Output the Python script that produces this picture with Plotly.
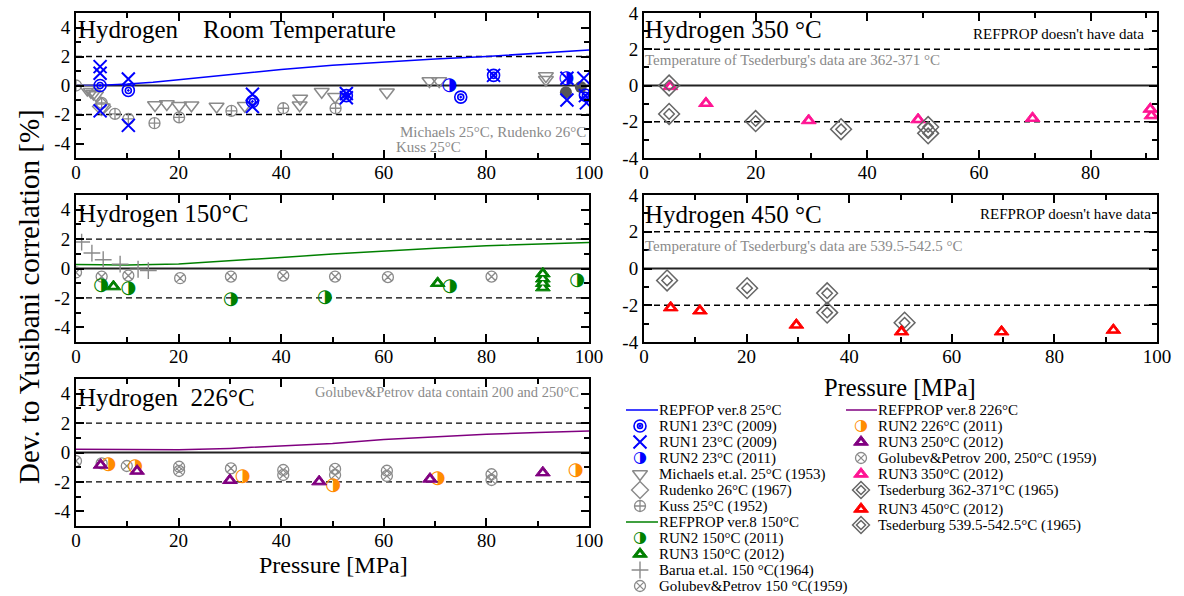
import plotly.graph_objects as go

W, H = 1184, 596
FONT = "Liberation Serif"
GLYPH_FONT = "DejaVu Sans"

# ---------------- data ----------------
# Room temperature panel
refprop25_p = [0, 5, 10, 15, 20, 30, 40, 50, 60, 70, 80, 90, 100]
refprop25_d = [0.0, 0.02, 0.1, 0.22, 0.4, 0.77, 1.1, 1.4, 1.62, 1.82, 2.0, 2.22, 2.45]
run1_target_p = [4.7, 10.2, 34.4, 52.7, 75.0, 81.4, 99.3]
run1_target_d = [0.0, -0.34, -1.1, -0.7, -0.8, 0.7, -0.67]
run1_x_p = [4.7, 4.7, 4.7, 10.2, 10.2, 34.4, 34.4, 52.7, 52.7, 81.4, 95.7, 95.7, 99.0, 99.3, 99.5]
run1_x_d = [1.3, 0.85, -1.75, 0.45, -2.75, -0.6, -1.45, -0.55, -0.85, 0.7, 0.5, -1.0, 0.5, -0.7, -1.2]
run2_23_p = [72.8, 95.6]
run2_23_d = [0.0, 0.47]
dark_p = [95.5, 98.4]
dark_d = [-0.47, -0.1]
michaels_p = [2.2, 2.9, 3.4, 3.9, 5.2, 15.4, 17.7, 20.1, 22.5, 27.4, 32.9, 43.6, 43.7, 47.9,
              50.5, 60.6, 68.9, 70.8, 91.6, 91.6]
michaels_d = [-0.27, -0.43, -0.55, -0.66, -1.5, -1.34, -1.27, -1.4, -1.36, -1.45, -1.4, -1.36,
              -0.9, -0.43, -0.77, -0.47, 0.31, 0.31, 0.65, 0.4]
rudenko_p = [5.0]
rudenko_d = [-1.45]
kuss_p = [0.0, 5.0, 7.6, 10.2, 15.3, 20.1, 30.3, 40.4, 50.6]
kuss_d = [0.0, -1.2, -1.95, -2.3, -2.6, -2.2, -1.75, -1.57, -1.57]

# 150 C panel
refprop150_p = [0, 10, 20, 30, 40, 50, 60, 70, 80, 90, 100]
refprop150_d = [0.28, 0.24, 0.3, 0.5, 0.75, 0.98, 1.2, 1.38, 1.55, 1.67, 1.77]
barua_p = [1.1, 3.1, 5.3, 8.6, 12.1, 14.1]
barua_d = [1.8, 1.05, 0.6, 0.3, -0.05, -0.14]
golubev150_p = [0, 5, 10.2, 20.3, 30.2, 40.4, 50.5, 60.8, 81.0]
golubev150_d = [-0.27, -0.55, -0.48, -0.66, -0.55, -0.48, -0.55, -0.59, -0.55]
run2_150_p = [4.9, 10.2, 30.2, 48.5, 72.9, 97.7]
run2_150_d = [-1.14, -1.39, -2.09, -1.95, -1.23, -0.84]
run3_150_p = [7.3, 70.5, 91.0, 91.0, 91.0, 91.0]
run3_150_d = [-1.23, -1.0, -0.35, -0.7, -1.0, -1.3]

# 226 C panel
refprop226_p = [0, 10, 20, 30, 40, 50, 60, 70, 80, 90, 100]
refprop226_d = [0.22, 0.18, 0.18, 0.28, 0.45, 0.62, 0.88, 1.08, 1.24, 1.36, 1.46]
golubev226_p = [0, 5, 9.9, 20.1, 20.1, 30.2, 40.4, 40.4, 50.5, 50.5, 60.6, 60.6, 81.0, 81.0]
golubev226_d = [-0.58, -0.74, -0.92, -0.97, -1.26, -1.08, -1.19, -1.53, -1.12, -1.53, -1.24, -1.6,
                -1.48, -1.87]
run2_226_p = [6.3, 11.5, 32.5, 50.1, 70.5, 97.4]
run2_226_d = [-0.81, -0.97, -1.66, -2.25, -1.75, -1.24]
run3_250_p = [4.8, 11.9, 30.0, 47.4, 69.0, 91.0]
run3_250_d = [-0.85, -1.26, -1.89, -1.98, -1.8, -1.37]

# 350 C panel
tsed362_p = [4.5, 4.5, 20.0, 35.3, 50.9, 50.9]
tsed362_d = [0.0, -1.57, -1.96, -2.41, -2.29, -2.64]
run3_350_p = [4.7, 11.1, 29.5, 49.1, 69.6, 90.7, 90.9]
run3_350_d = [-0.05, -0.98, -1.93, -1.88, -1.8, -1.3, -1.66]

# 450 C panel
tsed539_p = [4.5, 20.1, 35.7, 35.7, 50.8]
tsed539_d = [-0.65, -1.07, -1.35, -2.4, -2.95]
run3_450_p = [5.2, 10.9, 29.7, 50.2, 69.7, 91.5]
run3_450_d = [-2.13, -2.3, -3.07, -3.44, -3.44, -3.35]

x_ticks = [0, 20, 40, 60, 80, 100]
y_ticks = [-4, -2, 0, 2, 4]
y_ticktext = ["-4", "-2", "0", "2", "4"]

# ---------------- styles ----------------
BLUE, GREEN, PURPLE, ORANGE, PINK, RED = "#0000ff", "#008000", "#800080", "#ff8c00", "#ff1493", "#ff0000"
GRAY, DGRAY = "#8a8a8a", "#666666"

HALF_CIRCLE = "\u25d1"   # circle, right half black


def glyph(ch, color, size):
    return dict(kind="text", ch=ch, color=color, size=size)


def openm(symbol, color, size, lw=1.4):
    return dict(symbol=symbol, size=size, color=color, line=dict(color=color, width=lw))


def tri_outer(color):
    return dict(symbol="triangle-up", size=13, color=color, line=dict(color=color, width=1))


TRI_INNER = dict(symbol="triangle-up", size=5, color="white", line=dict(width=0))

S = {
    "target_o": openm("circle-open", BLUE, 12, 1.6),
    "target_i": openm("circle-open-dot", BLUE, 6, 1.6),
    "x": openm("x-thin-open", BLUE, 13, 2),
    "run2_23": glyph(HALF_CIRCLE, BLUE, 18),
    "dark": dict(symbol="circle", size=12, color="#555555"),
    "michaels": openm("triangle-down-open", GRAY, 13, 1.5),
    "rudenko": openm("diamond-open", GRAY, 14, 1.4),
    "kuss": openm("circle-cross-open", GRAY, 11, 1.3),
    "run2_150": glyph(HALF_CIRCLE, GREEN, 18),
    "run3_150": tri_outer(GREEN),
    "barua": openm("cross-thin-open", GRAY, 12, 1.4),
    "golubev": openm("circle-x-open", GRAY, 11, 1.3),
    "run2_226": glyph(HALF_CIRCLE, ORANGE, 18),
    "run3_250": tri_outer(PURPLE),
    "run3_350": tri_outer(PINK),
    "tsed_o": openm("diamond-open", DGRAY, 16, 1.5),
    "tsed_i": openm("diamond-open", DGRAY, 8, 1.5),
    "run3_450": tri_outer(RED),
    "tri_in": TRI_INNER,
}

fig = go.Figure()


def px2x(p):
    return p / W


def px2y(p):
    return 1 - p / H


# panel layout (pixel boxes)
panels = [
    ("x", "y", (76, 589), (13, 158), [0, 100], [-5, 5]),
    ("x2", "y2", (76, 589), (195, 342), [0, 100], [-5, 5]),
    ("x3", "y3", (76, 589), (379, 526), [0, 100], [-5, 5]),
    ("x4", "y4", (644, 1157), (13, 158), [0, 91.9], [-4, 4]),
    ("x5", "y5", (644, 1157), (195, 342), [0, 100], [-4, 4]),
]

shapes = []
for xa, ya, (xl, xr), (yt, yb), xrng, yrng in panels:
    xk = "xaxis" + xa[1:]
    yk = "yaxis" + ya[1:]
    common = dict(showgrid=False, zeroline=False, showline=True, linecolor="black", linewidth=2,
                  mirror="ticks", ticks="inside", ticklen=8, tickwidth=1.5, tickcolor="black",
                  automargin=False,
                  tickfont=dict(family=FONT, size=19, color="black"))
    fig.layout[xk] = dict(common, domain=[px2x(xl), px2x(xr)], range=xrng, anchor=ya,
                          tickvals=x_ticks, ticklabelstandoff=-4,
                          minor=dict(ticks="inside", ticklen=5, dtick=10, tick0=0, tickcolor="black", tickwidth=1.5))
    fig.layout[yk] = dict(common, domain=[px2y(yb), px2y(yt)], range=yrng, anchor=xa,
                          tickvals=y_ticks, ticktext=y_ticktext,
                          minor=dict(ticks="inside", ticklen=5, dtick=1, tick0=0, tickcolor="black", tickwidth=1.5))
    dref = xa + " domain"
    for lvl, dash, col, w in [(0, "solid", "#222222", 2), (2, "6px,4px", "black", 1.4), (-2, "6px,4px", "black", 1.4)]:
        shapes.append(dict(type="line", xref=dref, yref=ya, x0=0, x1=1, y0=lvl, y1=lvl,
                           line=dict(color=col, width=w, dash=dash), layer="below"))


def add(xs, ys, style, xa, ya, mode="markers"):
    if mode == "lines":
        fig.add_trace(go.Scatter(x=xs, y=ys, mode="lines", line=style, xaxis=xa, yaxis=ya,
                                 showlegend=False, hoverinfo="skip"))
    elif style.get("kind") == "text":
        fig.add_trace(go.Scatter(x=xs, y=ys, mode="text", text=[style["ch"]] * len(xs),
                                 textposition="middle center",
                                 textfont=dict(family=GLYPH_FONT, size=style["size"], color=style["color"]),
                                 xaxis=xa, yaxis=ya, showlegend=False, hoverinfo="skip", cliponaxis=True))
    else:
        fig.add_trace(go.Scatter(x=xs, y=ys, mode="markers", marker=style, xaxis=xa, yaxis=ya,
                                 showlegend=False, hoverinfo="skip", cliponaxis=True))


def add_tri(xs, ys, style, xa, ya):
    add(xs, ys, style, xa, ya)
    add(xs, ys, S["tri_in"], xa, ya)


L25 = dict(color=BLUE, width=1.5)
L150 = dict(color=GREEN, width=1.5)
L226 = dict(color=PURPLE, width=1.5)

# room temperature
add(refprop25_p, refprop25_d, L25, "x", "y", "lines")
add(kuss_p, kuss_d, S["kuss"], "x", "y")
add(rudenko_p, rudenko_d, S["rudenko"], "x", "y")
add(michaels_p, michaels_d, S["michaels"], "x", "y")
add(dark_p, dark_d, S["dark"], "x", "y")
add(run2_23_p, run2_23_d, S["run2_23"], "x", "y")
add(run1_x_p, run1_x_d, S["x"], "x", "y")
add(run1_target_p, run1_target_d, S["target_o"], "x", "y")
add(run1_target_p, run1_target_d, S["target_i"], "x", "y")
# 150 C
add(refprop150_p, refprop150_d, L150, "x2", "y2", "lines")
add(barua_p, barua_d, S["barua"], "x2", "y2")
add(golubev150_p, golubev150_d, S["golubev"], "x2", "y2")
add(run2_150_p, run2_150_d, S["run2_150"], "x2", "y2")
add_tri(run3_150_p, run3_150_d, S["run3_150"], "x2", "y2")
# 226 C
add(refprop226_p, refprop226_d, L226, "x3", "y3", "lines")
add(golubev226_p, golubev226_d, S["golubev"], "x3", "y3")
add(run2_226_p, run2_226_d, S["run2_226"], "x3", "y3")
add_tri(run3_250_p, run3_250_d, S["run3_250"], "x3", "y3")
# 350 C
add_tri(run3_350_p, run3_350_d, S["run3_350"], "x4", "y4")
add(tsed362_p, tsed362_d, S["tsed_o"], "x4", "y4")
add(tsed362_p, tsed362_d, S["tsed_i"], "x4", "y4")
# 450 C
add(tsed539_p, tsed539_d, S["tsed_o"], "x5", "y5")
add(tsed539_p, tsed539_d, S["tsed_i"], "x5", "y5")
add_tri(run3_450_p, run3_450_d, S["run3_450"], "x5", "y5")

# ---------------- manual legend (pixel-unit hidden axis) ----------------
fig.layout["xaxis6"] = dict(domain=[px2x(592), 1], range=[592, 1184], visible=False,
                            fixedrange=True, anchor="y6", automargin=False)
fig.layout["yaxis6"] = dict(domain=[0, px2y(387)], range=[596, 387], visible=False,
                            fixedrange=True, anchor="x6", automargin=False)

legend_left = [
    ("REPFOP ver.8 25°C", "line", L25),
    ("RUN1 23°C (2009)", "mk", [S["target_o"], S["target_i"]]),
    ("RUN1 23°C (2009)", "mk", [S["x"]]),
    ("RUN2 23°C (2011)", "mk", [S["run2_23"]]),
    ("Michaels et.al. 25°C (1953)", "mk", [S["michaels"]]),
    ("Rudenko 26°C (1967)", "mk", [S["rudenko"]]),
    ("Kuss 25°C (1952)", "mk", [S["kuss"]]),
    ("REFPROP ver.8 150°C", "line", L150),
    ("RUN2 150°C (2011)", "mk", [S["run2_150"]]),
    ("RUN3 150°C (2012)", "mk", [S["run3_150"], S["tri_in"]]),
    ("Barua et.al. 150 °C(1964)", "mk", [S["barua"]]),
    ("Golubev&Petrov 150 °C(1959)", "mk", [S["golubev"]]),
]
legend_right = [
    ("REFPROP ver.8 226°C", "line", L226),
    ("RUN2 226°C (2011)", "mk", [S["run2_226"]]),
    ("RUN3 250°C (2012)", "mk", [S["run3_250"], S["tri_in"]]),
    ("Golubev&Petrov 200, 250°C (1959)", "mk", [S["golubev"]]),
    ("RUN3 350°C (2012)", "mk", [S["run3_350"], S["tri_in"]]),
    ("Tsederburg 362-371°C (1965)", "mk", [S["tsed_o"], S["tsed_i"]]),
    ("RUN3 450°C (2012)", "mk", [S["run3_450"], S["tri_in"]]),
    ("Tsederburg 539.5-542.5°C (1965)", "mk", [S["tsed_o"], S["tsed_i"]]),
]

annotations = []


def draw_legend(entries, line_x0, line_x1, mk_x, text_x, y0, step, gap_after=None, gap=0):
    for i, (label, kind, style) in enumerate(entries):
        yy = y0 + i * step + (gap if gap_after is not None and i > gap_after else 0)
        if kind == "line":
            fig.add_trace(go.Scatter(x=[line_x0, line_x1], y=[yy, yy], mode="lines", line=style,
                                     xaxis="x6", yaxis="y6", showlegend=False, hoverinfo="skip"))
        else:
            for st in style:
                if st.get("kind") == "text":
                    fig.add_trace(go.Scatter(x=[mk_x], y=[yy], mode="text", text=[st["ch"]],
                                             textposition="middle center",
                                             textfont=dict(family=GLYPH_FONT, size=st["size"] - 2, color=st["color"]),
                                             xaxis="x6", yaxis="y6", showlegend=False, hoverinfo="skip",
                                             cliponaxis=False))
                else:
                    sz = min(st["size"], 13) if st["size"] > 8 else st["size"] - 1
                    fig.add_trace(go.Scatter(x=[mk_x], y=[yy], mode="markers", marker=dict(st, size=sz),
                                             xaxis="x6", yaxis="y6", showlegend=False, hoverinfo="skip",
                                             cliponaxis=False))
        annotations.append(dict(x=text_x, y=yy, xref="x6", yref="y6", text=label, showarrow=False,
                                xanchor="left", yanchor="middle",
                                font=dict(family=FONT, size=15, color="black")))


draw_legend(legend_left, 626, 658, 640, 657, 410, 16)
draw_legend(legend_right, 846, 877, 861, 876, 410, 16, gap_after=5, gap=3)


def note(text, x, y, size, color="black", xanchor="left"):
    annotations.append(dict(x=px2x(x), y=px2y(y), xref="paper", yref="paper", text=text,
                            showarrow=False, xanchor=xanchor, yanchor="middle",
                            font=dict(family=FONT, size=size, color=color)))


NB = "\u00a0"
note("Hydrogen" + NB * 3 + " Room Temperature", 76, 30, 25)
note("Hydrogen 150°C", 76, 213, 25)
note("Hydrogen" + NB + " 226°C", 76, 397, 25)
note("Hydrogen 350 °C", 643, 30, 25)
note("Hydrogen 450 °C", 643, 214, 25)
note("Michaels 25°C, Rudenko 26°C", 588, 132, 15, GRAY, "right")
note("Kuss 25°C", 394, 147, 15, GRAY)
note("Golubev&Petrov data contain 200 and 250°C", 581, 392, 14.5, GRAY, "right")
note("REFPROP doesn't have data", 1146, 34, 15, "black", "right")
note("REFPROP doesn't have data", 1153, 214, 15, "black", "right")
note("Temperature of Tsederburg's data are 362-371 °C", 643, 60, 15, GRAY)
note("Temperature of Tsederburg's data are 539.5-542.5 °C", 643, 246, 15, GRAY)
note("Pressure [MPa]", 333, 565, 24, "black", "center")
note("Pressure [MPa]", 900, 387, 24.5, "black", "center")
annotations.append(dict(x=px2x(29), y=px2y(297), xref="paper", yref="paper",
                        text="Dev. to Yusibani correlation [%]", showarrow=False, textangle=-90,
                        xanchor="center", yanchor="middle",
                        font=dict(family=FONT, size=29, color="black")))

fig.update_layout(width=W, height=H, margin=dict(l=0, r=0, t=0, b=0, pad=0, autoexpand=False),
                  paper_bgcolor="white", plot_bgcolor="rgba(0,0,0,0)", showlegend=False,
                  shapes=shapes, annotations=annotations,
                  font=dict(family=FONT, color="black"))

fig.write_html("out.html")
